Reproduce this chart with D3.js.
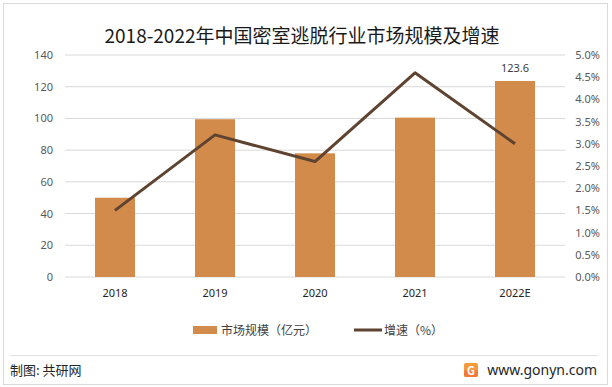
<!DOCTYPE html>
<html>
<head>
<meta charset="utf-8">
<script src="https://cdn.jsdelivr.net/npm/d3@7"></script>
<style>
  body { margin: 0; background: #fff; }
  text { font-family: "Microsoft YaHei", "Noto Sans CJK SC", sans-serif; }
</style>
</head>
<body>
<svg id="chart" width="612" height="387"></svg>
<script>
// data
const years = ["2018", "2019", "2020", "2021", "2022E"];
const marketSize = [50, 99.5, 78, 100.5, 123.6];   // 亿元
const growth = [1.5, 3.2, 2.6, 4.6, 3.0];           // %
const leftTicks = [0, 20, 40, 60, 80, 100, 120, 140];
const rightTicks = [0, 0.5, 1, 1.5, 2, 2.5, 3, 3.5, 4, 4.5, 5];

const W = 612, H = 387;
const plot = { left: 65, right: 565, top: 55, bottom: 277 };
const BAR_COLOR = "#D38B4C", LINE_COLOR = "#5E4330";

const svg = d3.select("#chart");

// outer frame
svg.append("rect")
    .attr("x", 3.5).attr("y", 3.5)
    .attr("width", W - 8).attr("height", H - 6)
    .attr("fill", "#fff").attr("stroke", "#d9d9d9");

// title
svg.append("text")
    .attr("x", 302).attr("y", 43)
    .attr("text-anchor", "middle")
    .attr("font-size", 19)
    .attr("fill", "#1a1a1a")
    .text("2018-2022年中国密室逃脱行业市场规模及增速");

// scales
const x = d3.scaleBand().domain(years).range([plot.left, plot.right]).paddingInner(0.6).paddingOuter(0.3);
const yL = d3.scaleLinear().domain([0, 140]).range([plot.bottom, plot.top]);
const yR = d3.scaleLinear().domain([0, 5]).range([plot.bottom, plot.top]);

// grid lines
svg.append("g")
    .selectAll("line")
    .data(leftTicks)
    .join("line")
    .attr("x1", plot.left).attr("x2", plot.right)
    .attr("y1", d => yL(d)).attr("y2", d => yL(d))
    .attr("stroke", "#d9d9d9").attr("stroke-width", 1);

// left axis
const leftAxis = svg.append("g")
    .attr("transform", `translate(${plot.left - 12},0)`)
    .call(d3.axisLeft(yL).tickValues(leftTicks).tickSize(0).tickPadding(0));
leftAxis.select(".domain").remove();
leftAxis.selectAll("text").attr("font-size", 11).attr("fill", "#595959")
    .style("font-family", "'Noto Sans', sans-serif");

// right axis
const rightAxis = svg.append("g")
    .attr("transform", `translate(${plot.right + 35},0)`)
    .call(d3.axisLeft(yR).tickValues(rightTicks).tickSize(0).tickPadding(0)
        .tickFormat(d => d.toFixed(1) + "%"));
rightAxis.select(".domain").remove();
rightAxis.selectAll("text").attr("font-size", 11).attr("fill", "#595959")
    .style("font-family", "'Noto Sans', sans-serif");

// bars
svg.append("g")
    .selectAll("rect")
    .data(marketSize)
    .join("rect")
    .attr("x", (d, i) => x(years[i]))
    .attr("y", d => yL(d))
    .attr("width", x.bandwidth())
    .attr("height", d => yL(0) - yL(d))
    .attr("fill", BAR_COLOR);

// data label on last bar only
svg.append("text")
    .attr("x", x(years[4]) + x.bandwidth() / 2)
    .attr("y", yL(marketSize[4]) - 9)
    .attr("text-anchor", "middle")
    .attr("font-size", 11).attr("fill", "#404040")
    .style("font-family", "'Noto Sans', sans-serif")
    .text(marketSize[4]);

// growth line
const line = d3.line()
    .x((d, i) => x(years[i]) + x.bandwidth() / 2)
    .y(d => yR(d));
svg.append("path")
    .datum(growth)
    .attr("d", line)
    .attr("fill", "none")
    .attr("stroke", LINE_COLOR)
    .attr("stroke-width", 3)
    .attr("stroke-linejoin", "round");

// x axis labels
const xAxis = svg.append("g")
    .attr("transform", `translate(0,${plot.bottom + 12})`)
    .call(d3.axisBottom(x).tickSize(0).tickPadding(0));
xAxis.select(".domain").remove();
xAxis.selectAll("text").attr("font-size", 11).attr("fill", "#262626")
    .style("font-family", "'Noto Sans', sans-serif");

// legend
const legend = svg.append("g");
legend.append("rect")
    .attr("x", 193).attr("y", 326).attr("width", 24).attr("height", 8)
    .attr("fill", BAR_COLOR);
legend.append("text")
    .attr("x", 221).attr("y", 335)
    .attr("font-size", 12).attr("fill", "#404040")
    .text("市场规模（亿元）");
legend.append("line")
    .attr("x1", 354).attr("x2", 382).attr("y1", 330).attr("y2", 330)
    .attr("stroke", LINE_COLOR).attr("stroke-width", 3);
legend.append("text")
    .attr("x", 384).attr("y", 335)
    .attr("font-size", 12).attr("fill", "#404040")
    .text("增速（%）");

// footer
svg.append("line")
    .attr("x1", 10).attr("x2", 598).attr("y1", 355.5).attr("y2", 355.5)
    .attr("stroke", "#e0e0e0");
svg.append("text")
    .attr("x", 10).attr("y", 375)
    .attr("font-size", 13).attr("fill", "#262626")
    .text("制图: 共研网");

const logo = svg.append("g").attr("transform", "translate(464,363)");
logo.append("rect").attr("width", 14).attr("height", 14).attr("rx", 2).attr("fill", "#F39A3C");
logo.append("rect").attr("y", 7).attr("width", 14).attr("height", 7).attr("rx", 2).attr("fill", "#F07A3A");
logo.append("text").attr("x", 7).attr("y", 11.5).attr("text-anchor", "middle")
    .attr("font-size", 11).attr("font-weight", "bold").attr("fill", "#fff").text("G");

svg.append("text")
    .attr("x", 597).attr("y", 375)
    .attr("text-anchor", "end")
    .attr("font-size", 14).attr("fill", "#262626")
    .style("font-family", "'Noto Sans', sans-serif")
    .text("www.gonyn.com");
</script>
</body>
</html>
